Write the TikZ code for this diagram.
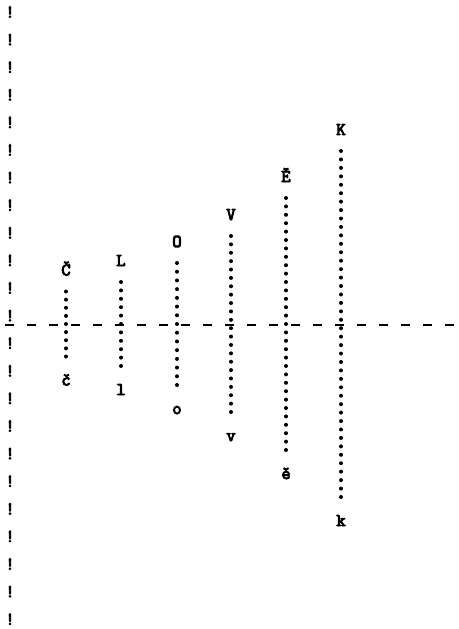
\documentclass[tikz,border=0pt]{standalone}
\usepackage{fontspec}
\newfontfamily\typeFont{Latin Modern Mono}[FakeBold=5]
\usetikzlibrary{positioning}
\tikzset{
  typeGlyph/.style={font=\fontsize{18}{18}\selectfont\typeFont, inner sep=0pt},
  axisMark/.style={typeGlyph},
  baseLine/.style={line width=2.4pt, dash pattern=on 9pt off 13pt},
  colDot/.style={fill=black},
}

\begin{document}
\begin{tikzpicture}[x=1pt, y=-1pt]
    \useasboundingbox (0,0) rectangle (458,629);
    % typed axis of exclamation marks
    \foreach \i in {0,...,22}
      \node[axisMark] (bang\i) at (10, 12+27.6*\i) {!};
    % dashed base line
    \coordinate (lineStart) at (5,325);
    \coordinate (lineEnd) at (458,325);
    \draw[baseLine] (lineStart) -- (lineEnd);
    % dotted columns: x / half length / upper / lower
    \foreach \x/\h/\up/\lo [count=\k] in {66/32.5/Č/č, 121/42/L/l, 177/61/O/o,
        231/88/V/v, 286/126/Ě/ě, 341/173/K/k} {
      \coordinate (colTop\k) at (\x, 324-\h);
      \coordinate (colBot\k) at (\x, 324+\h);
      \pgfmathtruncatemacro\nd{round(2*\h/8.5)}
      \foreach \j in {0,...,\nd}
        \fill[colDot] (\x, 324-\h+\j*2*\h/\nd) circle (2pt);
      \node[typeGlyph, above=16pt of colTop\k, anchor=base] (up\k) {\up};
      \node[typeGlyph, below=29pt of colBot\k, anchor=base] (lo\k) {\lo};
    }
  \end{tikzpicture}
\end{document}
